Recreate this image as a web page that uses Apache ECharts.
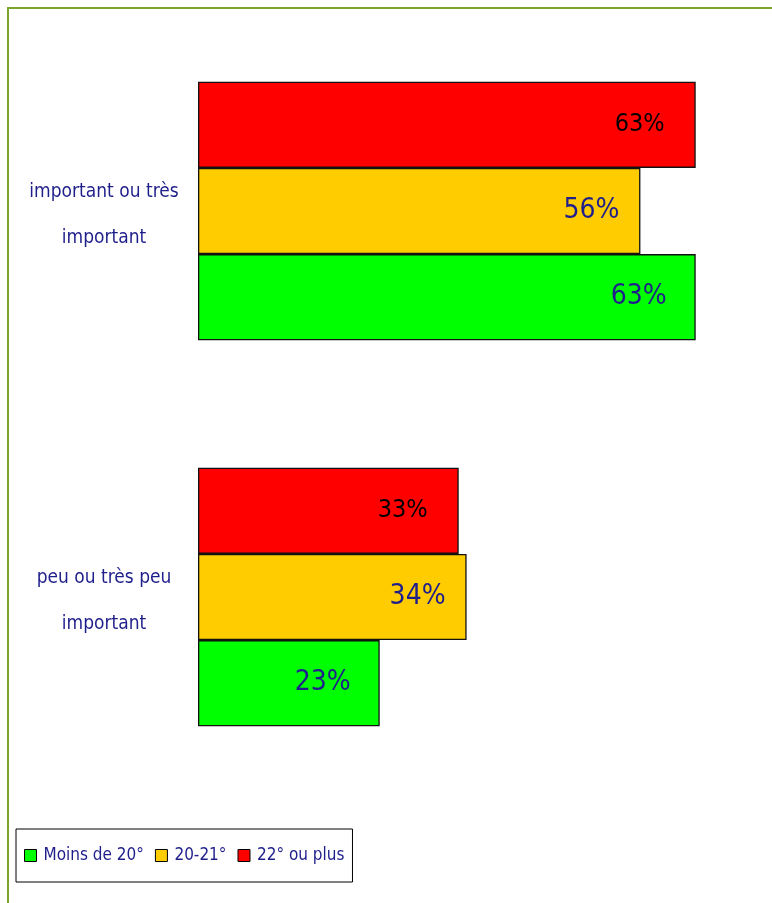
<!DOCTYPE html>
<html><head><meta charset="utf-8">
<script src="https://cdn.jsdelivr.net/npm/echarts@6/dist/echarts.min.js"></script>
<style>html,body{margin:0;padding:0;background:#fff}#c{width:772px;height:903px}</style>
</head><body><div id="c"></div>
<script>
const categories = ['important ou très important', 'peu ou très peu important'];
const categoryLabels = ['important ou très\nimportant', 'peu ou très peu\nimportant'];
const seriesNames = ['Moins de 20°', '20-21°', '22° ou plus'];
const moins20 = [63, 23];
const v2021 = [56, 34];
const v22plus = [63, 33];

const FONT = "'DejaVu Sans Condensed', 'Liberation Sans Narrow', sans-serif";
const NAVY = '#1F1F8C';
const chart = echarts.init(document.getElementById('c'));
function mk(name, data, color, labelColor, size, dist) {
  return {
    name, type: 'bar', data, barGap: '0%', barCategoryGap: '33%',
    itemStyle: { color, borderColor: '#111', borderWidth: 1.3 },
    label: { show: true, position: 'insideRight', distance: dist, formatter: '{c}%',
      color: labelColor, fontFamily: FONT, fontSize: size },
    emphasis: { disabled: true }, animation: false
  };
}
chart.setOption({
  animation: false,
  graphic: [{ type: 'rect', shape: { x: 8, y: 8, width: 900, height: 1000 },
    style: { fill: 'none', stroke: '#7BA428', lineWidth: 2 }, silent: true, z: -1 }],
  grid: { left: 198, right: 21, top: 18, height: 772 },
  xAxis: { type: 'value', min: 0, max: 70, show: false },
  yAxis: { type: 'category', data: categories, inverse: true,
    axisLine: { show: false }, axisTick: { show: false },
    axisLabel: { margin: 94, align: 'center', color: NAVY, fontFamily: FONT, fontSize: 19, lineHeight: 46,
      formatter: (v, i) => categoryLabels[i].split('\n').map(s => '{a|' + s + '}').join('\n'),
      rich: { a: { color: NAVY, fontFamily: FONT, fontSize: 19, lineHeight: 46, padding: [9, 0, 0, 0] } } } },
  legend: { data: seriesNames, left: 16, top: 829, orient: 'horizontal',
    borderColor: '#000', borderWidth: 1, padding: [18, 8, 18, 8], itemGap: 11,
    itemWidth: 12, itemHeight: 12, icon: 'rect',
    itemStyle: { borderColor: '#000', borderWidth: 1 },
    textStyle: { color: NAVY, fontFamily: FONT, fontSize: 17, padding: [0, 0, 0, 2] } },
  series: [
    mk('22° ou plus', v22plus, '#FF0000', '#000000', 25, 31),
    mk('20-21°', v2021, '#FFCC00', NAVY, 28, 21),
    mk('Moins de 20°', moins20, '#00FF00', NAVY, 28, 29)
  ]
});
</script></body></html>
